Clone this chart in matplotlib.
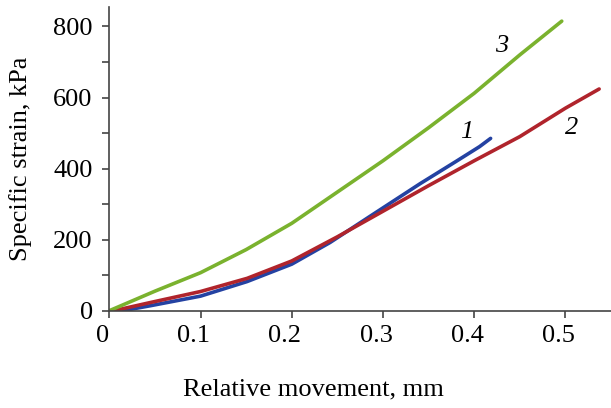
import matplotlib
matplotlib.use("Agg")
import matplotlib.pyplot as plt
import matplotlib.transforms as mtransforms
from matplotlib.ticker import MultipleLocator, FixedLocator

plt.rcParams['font.family'] = ['Liberation Serif', 'DejaVu Serif']

# Curve 1 (blue)
x1 = [0.015, 0.045, 0.10, 0.151, 0.20, 0.242, 0.286, 0.341, 0.38, 0.406, 0.418]
y1 = [0, 14, 41, 82, 131, 192, 266, 358, 420, 462, 485]
# Curve 2 (red)
x2 = [0.005, 0.045, 0.10, 0.151, 0.20, 0.25, 0.30, 0.35, 0.40, 0.45, 0.50, 0.537]
y2 = [0, 23, 54, 91, 140, 208, 280, 352, 422, 490, 570, 624]
# Curve 3 (green)
x3 = [0, 0.05, 0.10, 0.15, 0.20, 0.25, 0.30, 0.35, 0.40, 0.45, 0.496]
y3 = [0, 55, 107, 172, 246, 334, 422, 515, 612, 720, 815]

curve_labels = ["1", "2", "3"]
label_pos_x = [0.392, 0.507, 0.430]
label_pos_y = [504, 514, 746]

x_ticks = [0.0, 0.1, 0.2, 0.3, 0.4, 0.5]
x_ticklabels = ["0", "0.1", "0.2", "0.3", "0.4", "0.5"]

fig = plt.figure(figsize=(6.11, 4.08), dpi=100)
ax = fig.add_axes([0.179, 0.2385, 0.821, 0.7445])

ax.plot(x1, y1, color='#2442a2', lw=2.6, solid_capstyle='round', solid_joinstyle='round')
ax.plot(x2, y2, color='#b0242c', lw=2.6, solid_capstyle='round', solid_joinstyle='round')
ax.plot(x3, y3, color='#7ab22e', lw=2.6, solid_capstyle='round', solid_joinstyle='round')

for t, xx, yy in zip(curve_labels, label_pos_x, label_pos_y):
    ax.text(xx, yy, t, fontsize=19, style='italic', ha='center', va='center')

ax.set_xlim(0, 0.55)
ax.set_ylim(0, 855)

ax.xaxis.set_major_locator(FixedLocator(x_ticks))
ax.set_xticklabels(x_ticklabels)
ax.yaxis.set_major_locator(MultipleLocator(200))
ax.yaxis.set_minor_locator(MultipleLocator(100))

for s in ['top', 'right']:
    ax.spines[s].set_visible(False)
for s in ['left', 'bottom']:
    ax.spines[s].set_color('#444444')
    ax.spines[s].set_linewidth(1.2)

ax.tick_params(axis='both', which='both', direction='out', length=5, width=1.2,
               color='#444444', labelsize=19)
ax.tick_params(axis='x', pad=5)
ax.tick_params(axis='y', pad=7)

shift = mtransforms.ScaledTranslation(-7 / 100, 0, fig.dpi_scale_trans)
for lab in ax.get_xticklabels():
    lab.set_transform(lab.get_transform() + shift)

ax.set_xlabel("Relative movement, mm", fontsize=19)
ax.xaxis.set_label_coords(0.406, -0.222)
ax.set_ylabel("Specific strain, kPa", fontsize=19)
ax.yaxis.set_label_coords(-0.154, 0.5)

fig.savefig("out.png", dpi=100)
